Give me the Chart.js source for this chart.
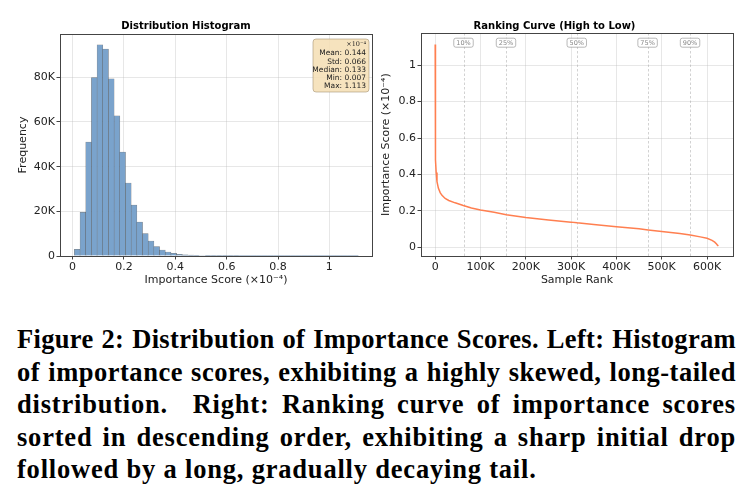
<!DOCTYPE html>
<html>
<head>
<meta charset="utf-8">
<script src="https://cdn.jsdelivr.net/npm/chart.js@4.4.0/dist/chart.umd.min.js"></script>
<style>
  body { margin: 0; background: #fff; width: 752px; height: 503px; position: relative; overflow: hidden; }
  #left { position: absolute; left: 0; top: 0; }
  #right { position: absolute; left: 376px; top: 0; }
  .cap {
    position: absolute; left: 17px; width: 719px; white-space: pre;
    font-family: "Liberation Serif", serif; font-weight: bold;
    font-size: 26.5px; letter-spacing: 0.8px; line-height: 32.5px; color: #000;
  }
</style>
</head>
<body>
<canvas id="left" width="376" height="300"></canvas>
<canvas id="right" width="376" height="300"></canvas>

<div class="cap just" style="top:323px"><span>Figure 2: Distribution of Importance Scores. Left: Histogram</span></div>
<div class="cap just" style="top:355.5px"><span>of importance scores, exhibiting a highly skewed, long-tailed</span></div>
<div class="cap just" style="top:388px"><span>distribution.  Right: Ranking curve of importance scores</span></div>
<div class="cap just" style="top:420.5px"><span>sorted in descending order, exhibiting a sharp initial drop</span></div>
<div class="cap" style="top:453px"><span>followed by a long, gradually decaying tail.</span></div>

<script>
// histogram: 50 bins between min and max score
const histMin = 0.007
const histMax = 1.113
const histCounts = [
    3000, 19600, 51000, 79900, 94600, 92600, 79300, 62800, 46500, 32700,
    22800, 15200, 10000, 6700, 4200, 2700, 1800, 1200, 800, 550,
    400, 300, 220, 170, 130, 100, 80, 60, 50, 40,
    32, 26, 20, 16, 13, 10, 8, 6, 5, 4,
    3, 3, 2, 2, 2, 1, 1, 1, 1, 1
]
const histTicks = [0, 0.2, 0.4, 0.6, 0.8, 1]
const freqTicks = [0, 20000, 40000, 60000, 80000]

const statLabels = ['Mean', 'Std', 'Median', 'Min', 'Max']
const statValues = ['0.144', '0.066', '0.133', '0.007', '1.113']

// ranking curve (sorted high to low)
const rankX = [0, 200, 600, 1200, 2200, 4000, 7000, 11000, 15000, 22000, 30000, 44000, 62000, 80000,
    100000, 130000, 157000, 200000, 250000, 300000, 313000, 350000, 400000, 450000, 470000,
    500000, 540000, 563000, 585000, 600000, 611000, 617000, 621000, 623500, 625000]
const rankY = [1.113, 0.8, 0.6, 0.48, 0.41, 0.36, 0.325, 0.3, 0.285, 0.268, 0.257, 0.244, 0.229, 0.216,
    0.205, 0.192, 0.179, 0.163, 0.150, 0.138, 0.134, 0.125, 0.113, 0.101, 0.095,
    0.086, 0.075, 0.067, 0.057, 0.049, 0.038, 0.028, 0.018, 0.010, 0.007]
const rankTicks = [0, 100000, 200000, 300000, 400000, 500000, 600000]
const scoreTicks = [0, 0.2, 0.4, 0.6, 0.8, 1]

const pctLabels = ['10%', '25%', '50%', '75%', '90%']
const pctRanks = [62500, 156300, 312500, 468800, 562500]

// justify caption lines by hand so the line breaks stay as in the figure
document.querySelectorAll('.cap.just').forEach(div => {
    const span = div.firstElementChild
    const text = span.textContent
    let ls = 0.8
    let w = span.getBoundingClientRect().width
    if (w > 712) {
        ls = ls - (w - 712) / text.length
        div.style.letterSpacing = ls + 'px'
        w = span.getBoundingClientRect().width
    }
    const spaces = (text.match(/ /g) || []).length
    div.style.wordSpacing = ((719 - w) / spaces) + 'px'
})

const tickFont = { family: 'DejaVu Sans', size: 11 }
const titleFont = { family: 'DejaVu Sans', size: 10, weight: 'bold', lineHeight: 1.2 }
const axisFont = { family: 'DejaVu Sans', size: 11, lineHeight: 1.2 }
const gridColor = 'rgba(176,176,176,0.3)'

const kFormat = v => v === 0 ? '0' : (v / 1000) + 'K'
const numFormat = v => v === 0 ? '0' : (v === 1 ? '1' : v.toFixed(1))

function fixTicks(list) {
    return scale => { scale.ticks = list.map(v => ({ value: v })) }
}

const frame = {
    id: 'frame',
    afterDatasetsDraw(chart) {
        const a = chart.chartArea
        const ctx = chart.ctx
        ctx.save()
        ctx.strokeStyle = '#444'
        ctx.lineWidth = 1
        ctx.strokeRect(Math.round(a.left) + 0.5, Math.round(a.top) + 0.5,
            Math.round(a.right - a.left), Math.round(a.bottom - a.top))
        ctx.restore()
    }
}

const statsBox = {
    id: 'statsBox',
    afterDraw(chart) {
        const a = chart.chartArea
        const ctx = chart.ctx
        const w = 56, h = 53
        const x = a.right - 3 - w, y = a.top + 5
        ctx.save()
        ctx.beginPath()
        ctx.roundRect(x, y, w, h, 3)
        ctx.fillStyle = 'rgba(245,222,179,0.85)'
        ctx.fill()
        ctx.strokeStyle = 'rgba(160,140,110,0.7)'
        ctx.lineWidth = 0.8
        ctx.stroke()
        ctx.fillStyle = '#222'
        ctx.textAlign = 'right'
        ctx.textBaseline = 'middle'
        ctx.font = '6.5px "DejaVu Serif"'
        ctx.fillText('×10⁻⁴', x + w - 3, y + 5)
        ctx.font = '7.5px "DejaVu Sans"'
        statLabels.forEach((lab, i) => {
            ctx.fillText(lab + ': ' + statValues[i], x + w - 3, y + 14.3 + i * 8.3)
        })
        ctx.restore()
    }
}

const percentiles = {
    id: 'percentiles',
    beforeDatasetsDraw(chart) {
        const a = chart.chartArea
        const ctx = chart.ctx
        const xs = chart.scales.x
        ctx.save()
        ctx.strokeStyle = 'rgba(160,160,160,0.6)'
        ctx.lineWidth = 0.8
        ctx.setLineDash([2.5, 2])
        pctRanks.forEach(r => {
            const px = Math.round(xs.getPixelForValue(r)) + 0.5
            ctx.beginPath()
            ctx.moveTo(px, a.bottom)
            ctx.lineTo(px, a.top)
            ctx.stroke()
        })
        ctx.restore()
    },
    afterDatasetsDraw(chart) {
        const a = chart.chartArea
        const ctx = chart.ctx
        const xs = chart.scales.x
        ctx.save()
        ctx.font = '6.5px "DejaVu Sans"'
        ctx.textAlign = 'center'
        ctx.textBaseline = 'middle'
        pctLabels.forEach((lab, i) => {
            const px = xs.getPixelForValue(pctRanks[i])
            const cy = a.top + 9.4
            const w = ctx.measureText(lab).width + 5
            ctx.beginPath()
            ctx.roundRect(px - w / 2, cy - 4.5, w, 9, 2)
            ctx.fillStyle = 'rgba(255,255,255,0.9)'
            ctx.fill()
            ctx.strokeStyle = 'rgba(130,130,130,0.8)'
            ctx.lineWidth = 0.7
            ctx.stroke()
            ctx.fillStyle = '#888'
            ctx.fillText(lab, px, cy + 0.5)
        })
        ctx.restore()
    }
}

const binWidth = (histMax - histMin) / histCounts.length
const histPoints = histCounts.map((c, i) => ({ x: histMin + (i + 0.5) * binWidth, y: c }))

new Chart(document.getElementById('left'), {
    type: 'bar',
    data: {
        datasets: [{
            data: histPoints,
            backgroundColor: 'rgb(122,163,204)',
            borderColor: 'rgba(40,40,40,0.6)',
            borderWidth: 0.5,
            barPercentage: 1,
            categoryPercentage: 1
        }]
    },
    options: {
        responsive: false,
        animation: false,
        layout: { padding: { left: 0, right: 4, top: 0, bottom: 8 } },
        plugins: {
            legend: { display: false },
            tooltip: { enabled: false },
            title: {
                display: true,
                text: 'Distribution Histogram',
                color: '#000',
                font: titleFont,
                padding: { top: 20, bottom: 2 }
            }
        },
        scales: {
            x: {
                type: 'linear',
                offset: false,
                min: -0.049,
                max: 1.166,
                afterBuildTicks: fixTicks(histTicks),
                afterFit: s => { s.height = 36 },
                grid: { color: gridColor, tickColor: '#444', tickLength: 3.5, offset: false },
                border: { display: false },
                ticks: { font: tickFont, color: '#222', padding: 1, maxRotation: 0, callback: numFormat },
                title: { display: true, text: 'Importance Score (×10⁻⁴)', color: '#222', font: axisFont, padding: { top: 0, bottom: 5 } }
            },
            y: {
                min: 0,
                max: 99400,
                afterBuildTicks: fixTicks(freqTicks),
                afterFit: s => { s.width = 60 },
                grid: { color: gridColor, tickColor: '#444', tickLength: 3.5 },
                border: { display: false },
                ticks: { font: tickFont, color: '#222', padding: 1.5, callback: kFormat },
                title: { display: true, text: 'Frequency', color: '#222', font: axisFont, padding: { top: 16.4, bottom: 0 } }
            }
        }
    },
    plugins: [frame, statsBox]
})

new Chart(document.getElementById('right'), {
    type: 'line',
    data: {
        datasets: [{
            data: rankX.map((r, i) => ({ x: r, y: rankY[i] })),
            borderColor: 'rgb(255,127,80)',
            borderWidth: 1.5,
            pointRadius: 0,
            tension: 0,
            fill: false
        }]
    },
    options: {
        responsive: false,
        animation: false,
        layout: { padding: { left: 0, right: 19, top: 0, bottom: 8 } },
        plugins: {
            legend: { display: false },
            tooltip: { enabled: false },
            title: {
                display: true,
                text: 'Ranking Curve (High to Low)',
                color: '#000',
                font: titleFont,
                padding: { top: 20, bottom: 1.3 }
            }
        },
        scales: {
            x: {
                type: 'linear',
                min: -31300,
                max: 657300,
                afterBuildTicks: fixTicks(rankTicks),
                afterFit: s => { s.height = 36 },
                grid: { color: gridColor, tickColor: '#444', tickLength: 3.5 },
                border: { display: false },
                ticks: { font: tickFont, color: '#222', padding: 1, maxRotation: 0, callback: kFormat },
                title: { display: true, text: 'Sample Rank', color: '#222', font: axisFont, padding: { top: 0, bottom: 5 } }
            },
            y: {
                min: -0.048,
                max: 1.175,
                afterBuildTicks: fixTicks(scoreTicks),
                afterFit: s => { s.width = 45 },
                grid: { color: gridColor, tickColor: '#444', tickLength: 3.5 },
                border: { display: false },
                ticks: { font: tickFont, color: '#222', padding: 1.5, callback: numFormat },
                title: { display: true, text: 'Importance Score (×10⁻⁴)', color: '#222', font: axisFont, padding: { top: 4, bottom: 0 } }
            }
        }
    },
    plugins: [frame, percentiles]
})
</script>
</body>
</html>
